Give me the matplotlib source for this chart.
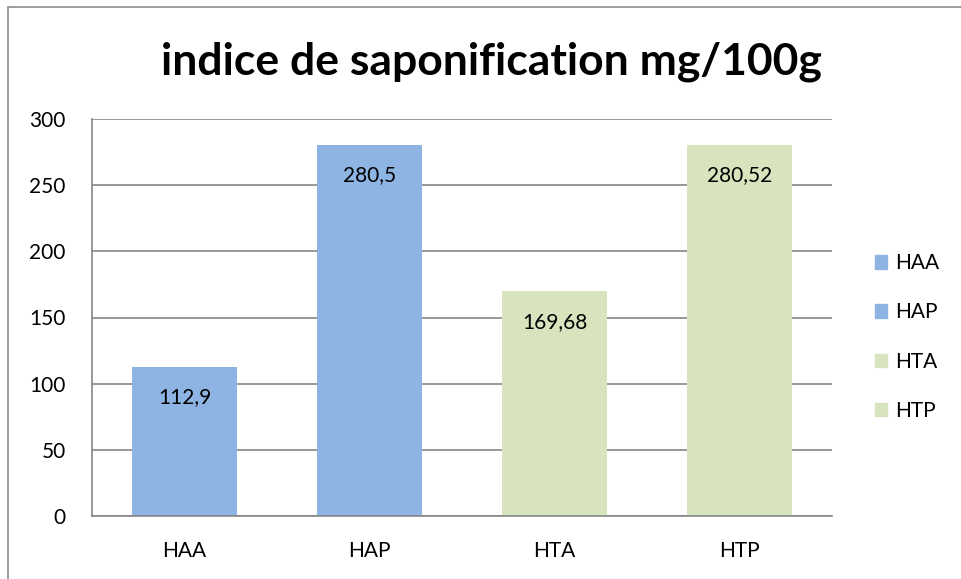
import matplotlib.pyplot as plt
from matplotlib.patches import Patch, Rectangle

categories = ["HAA", "HAP", "HTA", "HTP"]
values = [112.9, 280.5, 169.68, 280.52]
labels = ["112,9", "280,5", "169,68", "280,52"]
colors = ["#8EB4E3", "#8EB4E3", "#D7E4BD", "#D7E4BD"]
yticks = [0, 50, 100, 150, 200, 250, 300]

plt.rcParams['font.family'] = ['Lato', 'DejaVu Sans']

fig = plt.figure(figsize=(9.61, 5.79), dpi=100)
# cadre du graphique (visible en haut et a gauche)
fig.patches.append(Rectangle((8/961, -0.1), 1.1, 0.1 + 1 - 7/579, transform=fig.transFigure,
                             fill=False, edgecolor="#8c8c8c", linewidth=1.2))

ax = fig.add_axes([92/961, 1 - 516/579, (832-92)/961, (516-119)/579])
x = range(len(categories))
bars = ax.bar(x, values, width=0.57, color=colors, zorder=2)

for b, lab in zip(bars, labels):
    ax.annotate(lab, (b.get_x() + b.get_width()/2, b.get_height()),
                xytext=(0, -22), textcoords="offset points",
                ha="center", va="center", fontsize=15)

ax.set_xlim(-0.5, 3.5)
ax.set_ylim(0, 300)
ax.set_yticks(yticks)
ax.set_xticks(list(x))
ax.set_xticklabels(categories)
ax.yaxis.grid(True, color="#868686", linewidth=1.2, zorder=0)
ax.tick_params(length=0, labelsize=15)
ax.tick_params(axis="y", pad=19)
ax.tick_params(axis="x", pad=18)
for s in ["top", "right"]:
    ax.spines[s].set_visible(False)
for s in ["left", "bottom"]:
    ax.spines[s].set_color("#868686")
    ax.spines[s].set_linewidth(1.2)

fig.text(491/961, 1 - 62/579, "indice de saponification mg/100g",
         ha="center", va="center", fontsize=32, fontweight="bold")

handles = [Patch(color=c) for c in colors]
fig.legend(handles, categories, loc="center left", bbox_to_anchor=(856/961, 1 - 337/579),
           frameon=False, fontsize=15, handlelength=0.6, handleheight=0.6,
           labelspacing=1.4, handletextpad=0.4)

fig.savefig("out.png", dpi=100)
